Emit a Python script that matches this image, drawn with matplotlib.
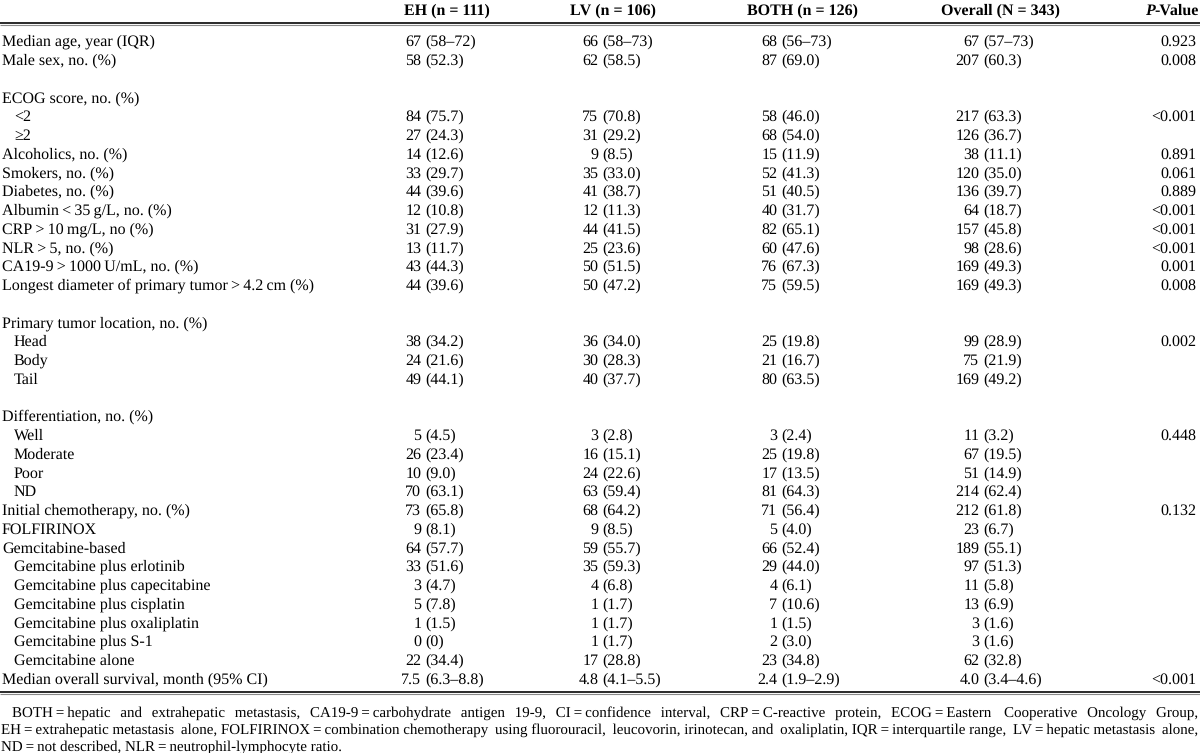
import matplotlib
matplotlib.use("Agg")
import matplotlib.pyplot as plt

plt.rcParams["text.hinting"] = "no_hinting"
plt.rcParams["text.hinting_factor"] = 1

# ---------------- data ----------------
headers = ["EH (n = 111)", "LV (n = 106)", "BOTH (n = 126)", "Overall (N = 343)"]

labels = ["Median age, year (IQR)", "Male sex, no. (%)", "",
          "ECOG score, no. (%)", "<2", "\u22652",
          "Alcoholics, no. (%)", "Smokers, no. (%)", "Diabetes, no. (%)",
          "Albumin\u2009<\u200935\u2009g/L, no. (%)", "CRP\u2009>\u200910\u2009mg/L, no (%)",
          "NLR\u2009>\u20095, no. (%)", "CA19-9\u2009>\u20091000\u2009U/mL, no. (%)",
          "Longest diameter of primary tumor\u2009>\u20094.2\u2009cm (%)", "",
          "Primary tumor location, no. (%)", "Head", "Body", "Tail", "",
          "Differentiation, no. (%)", "Well", "Moderate", "Poor", "ND",
          "Initial chemotherapy, no. (%)", "FOLFIRINOX", "Gemcitabine-based",
          "Gemcitabine plus erlotinib", "Gemcitabine plus capecitabine",
          "Gemcitabine plus cisplatin", "Gemcitabine plus oxaliplatin",
          "Gemcitabine plus S-1", "Gemcitabine alone",
          "Median overall survival, month (95% CI)"]

indented = ["<2", "\u22652", "Head", "Body", "Tail", "Well", "Moderate", "Poor", "ND",
            "Gemcitabine plus erlotinib", "Gemcitabine plus capecitabine",
            "Gemcitabine plus cisplatin", "Gemcitabine plus oxaliplatin",
            "Gemcitabine plus S-1", "Gemcitabine alone"]

eh = ["67 (58\u201372)", "58 (52.3)", "", "", "84 (75.7)", "27 (24.3)", "14 (12.6)",
      "33 (29.7)", "44 (39.6)", "12 (10.8)", "31 (27.9)", "13 (11.7)", "43 (44.3)",
      "44 (39.6)", "", "", "38 (34.2)", "24 (21.6)", "49 (44.1)", "", "", "5 (4.5)",
      "26 (23.4)", "10 (9.0)", "70 (63.1)", "73 (65.8)", "9 (8.1)", "64 (57.7)",
      "33 (51.6)", "3 (4.7)", "5 (7.8)", "1 (1.5)", "0 (0)", "22 (34.4)",
      "7.5 (6.3\u20138.8)"]

lv = ["66 (58\u201373)", "62 (58.5)", "", "", "75 (70.8)", "31 (29.2)", "9 (8.5)",
      "35 (33.0)", "41 (38.7)", "12 (11.3)", "44 (41.5)", "25 (23.6)", "50 (51.5)",
      "50 (47.2)", "", "", "36 (34.0)", "30 (28.3)", "40 (37.7)", "", "", "3 (2.8)",
      "16 (15.1)", "24 (22.6)", "63 (59.4)", "68 (64.2)", "9 (8.5)", "59 (55.7)",
      "35 (59.3)", "4 (6.8)", "1 (1.7)", "1 (1.7)", "1 (1.7)", "17 (28.8)",
      "4.8 (4.1\u20135.5)"]

both = ["68 (56\u201373)", "87 (69.0)", "", "", "58 (46.0)", "68 (54.0)", "15 (11.9)",
        "52 (41.3)", "51 (40.5)", "40 (31.7)", "82 (65.1)", "60 (47.6)", "76 (67.3)",
        "75 (59.5)", "", "", "25 (19.8)", "21 (16.7)", "80 (63.5)", "", "", "3 (2.4)",
        "25 (19.8)", "17 (13.5)", "81 (64.3)", "71 (56.4)", "5 (4.0)", "66 (52.4)",
        "29 (44.0)", "4 (6.1)", "7 (10.6)", "1 (1.5)", "2 (3.0)", "23 (34.8)",
        "2.4 (1.9\u20132.9)"]

overall = ["67 (57\u201373)", "207 (60.3)", "", "", "217 (63.3)", "126 (36.7)", "38 (11.1)",
           "120 (35.0)", "136 (39.7)", "64 (18.7)", "157 (45.8)", "98 (28.6)",
           "169 (49.3)", "169 (49.3)", "", "", "99 (28.9)", "75 (21.9)", "169 (49.2)",
           "", "", "11 (3.2)", "67 (19.5)", "51 (14.9)", "214 (62.4)", "212 (61.8)",
           "23 (6.7)", "189 (55.1)", "97 (51.3)", "11 (5.8)", "13 (6.9)", "3 (1.6)",
           "3 (1.6)", "62 (32.8)", "4.0 (3.4\u20134.6)"]

pvals = ["0.923", "0.008", "", "", "<0.001", "", "0.891", "0.061", "0.889", "<0.001",
         "<0.001", "<0.001", "0.001", "0.008", "", "", "0.002", "", "", "", "",
         "0.448", "", "", "", "0.132", "", "", "", "", "", "", "", "", "<0.001"]

footnote = [
    "BOTH\u2009=\u2009hepatic and extrahepatic metastasis, CA19-9\u2009=\u2009carbohydrate antigen 19-9, "
    "CI\u2009=\u2009confidence interval, CRP\u2009=\u2009C-reactive protein, ECOG\u2009=\u2009Eastern Cooperative Oncology Group,",
    "EH\u2009=\u2009extrahepatic metastasis alone, FOLFIRINOX\u2009=\u2009combination chemotherapy using fluorouracil, "
    "leucovorin, irinotecan, and oxaliplatin, IQR\u2009=\u2009interquartile range, LV\u2009=\u2009hepatic metastasis alone,",
    "ND\u2009=\u2009not described, NLR\u2009=\u2009neutrophil-lymphocyte ratio.",
]

# ---------------- layout ----------------
W, H = 1200, 753
FONT = ["Liberation Serif", "DejaVu Serif"]
FS = 11.5
FS_HEAD = 11.8
FS_NOTE = 10.7

fig = plt.figure(figsize=(W / 100, H / 100), dpi=100)
ax = fig.add_axes([0, 0, 1, 1])
ax.set_xlim(0, W)
ax.set_ylim(H, 0)
ax.axis("off")

BASE = 5.3            # baseline offset below the row centre (px)
y_header = 9.5
y_first = 41
step = 18.75
label_x = 2
indent_x = 14
paren_x = [425, 602, 781, 983]
header_x = [404, 570, 747, 941]
pval_x = 1196
gap = 3.8

kw = dict(fontfamily=FONT, fontsize=FS, va="baseline", color="black")
hkw = dict(fontfamily=FONT, fontsize=FS_HEAD, va="baseline", color="black",
           fontweight="bold")
nkw = dict(fontfamily=FONT, fontsize=FS_NOTE, va="baseline", color="black")

fig.canvas.draw()
renderer = fig.canvas.get_renderer()


def text_width(s, **k):
    t = ax.text(0, 0, s, **k)
    w = t.get_window_extent(renderer).width
    t.remove()
    return w


# header
for hx, h in zip(header_x, headers):
    ax.text(hx, y_header + BASE, h, ha="left", **hkw)
wv = text_width("-Value", **hkw)
ax.text(1199, y_header + BASE, "-Value", ha="right", **hkw)
ax.text(1199 - wv, y_header + BASE, "P", ha="right", fontstyle="italic", **hkw)

# rules
for yy, lw, c in [(22.5, 1.4, "#2a2a2a"), (25.3, 0.8, "#8a8a8a"),
                  (691.5, 1.4, "#2a2a2a"), (694.3, 0.8, "#8a8a8a")]:
    ax.plot([0, W], [yy, yy], color=c, lw=lw, solid_capstyle="butt")

# body
for i, lab in enumerate(labels):
    y = round(y_first + i * step + BASE)
    if lab:
        x = indent_x if lab in indented else label_x
        ax.text(x, y, lab, ha="left", **kw)
    for col, px in zip([eh, lv, both, overall], paren_x):
        s = col[i]
        if not s:
            continue
        cnt, rest = s.split(" ", 1)
        ax.text(px - gap, y, cnt, ha="right", **kw)
        ax.text(px, y, rest, ha="left", **kw)
    if pvals[i]:
        ax.text(pval_x, y, pvals[i], ha="right", **kw)

# footnote: justified by padding the word gaps with thin spaces (one text per line)
thin_w = text_width("a\u2009a", **nkw) - text_width("aa", **nkw)
y_notes = [712, 729, 746]
for li, (line, yy) in enumerate(zip(footnote, y_notes)):
    yb = yy + 5
    x0 = 12 if li == 0 else 1
    if li < len(footnote) - 1:
        words = line.split(" ")
        natural = text_width(line, **nkw)
        extra = (1197 - x0) - natural
        per_gap = extra / (len(words) - 1) / thin_w
        parts = [words[0]]
        acc = 0.0
        used = 0
        for w in words[1:]:
            acc += per_gap
            n = int(round(acc)) - used
            used += n
            parts.append(" " + "\u2009" * max(n, 0) + w)
        line = "".join(parts)
    ax.text(x0, yb, line, ha="left", **nkw)

fig.savefig("out.png", dpi=100)
